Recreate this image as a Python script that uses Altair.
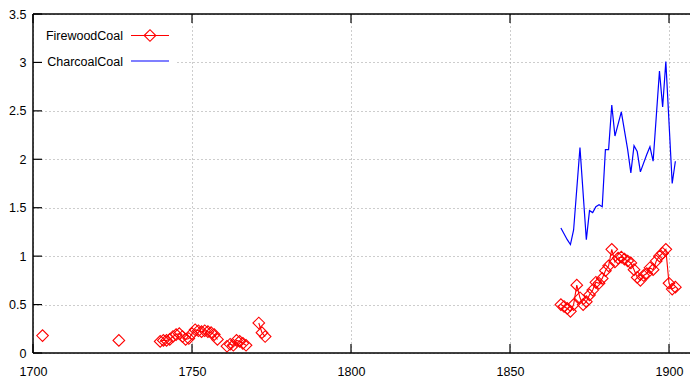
import altair as alt
import pandas as pd

# ---- data ----
red_years = [1703, 1727,
             1740, 1741, 1742, 1743, 1744, 1745, 1746, 1747, 1748, 1749,
             1750, 1751, 1752, 1753, 1754, 1755, 1756, 1757, 1758,
             1761, 1762, 1763, 1764, 1765, 1766, 1767,
             1771, 1772, 1773,
             1866, 1867, 1868, 1869, 1870, 1871, 1872, 1873, 1874, 1875,
             1876, 1877, 1878, 1879, 1880, 1881, 1882, 1883, 1884, 1885,
             1886, 1887, 1888, 1889, 1890, 1891, 1892, 1893, 1894, 1895,
             1896, 1897, 1898, 1899, 1900, 1901, 1902]
red_values = [0.18, 0.13,
              0.12, 0.13, 0.13, 0.14, 0.17, 0.19, 0.20, 0.17, 0.14, 0.15,
              0.20, 0.24, 0.23, 0.22, 0.23, 0.22, 0.21, 0.19, 0.14,
              0.07, 0.09, 0.08, 0.13, 0.12, 0.10, 0.08,
              0.31, 0.21, 0.17,
              0.50, 0.48, 0.46, 0.43, 0.50, 0.70, 0.57, 0.50, 0.53, 0.60,
              0.65, 0.73, 0.72, 0.77, 0.85, 0.90, 1.07, 0.94, 0.98, 0.99,
              0.97, 0.95, 0.93, 0.86, 0.78, 0.75, 0.80, 0.82, 0.88, 0.86,
              0.95, 1.00, 1.03, 1.07, 0.72, 0.66, 0.68]

blue_years = [1866, 1868, 1869, 1870, 1872, 1874, 1875, 1876, 1877, 1878,
              1879, 1880, 1881, 1882, 1883, 1885, 1887, 1888, 1889, 1890,
              1891, 1893, 1894, 1895, 1897, 1898, 1899, 1901, 1902]
blue_values = [1.29, 1.17, 1.12, 1.27, 2.12, 1.17, 1.47, 1.45, 1.51, 1.53,
               1.51, 2.10, 2.10, 2.56, 2.24, 2.49, 2.10, 1.86, 2.14, 2.08,
               1.87, 2.05, 2.13, 1.98, 2.91, 2.54, 3.01, 1.75, 1.98]

x_ticks = [1700, 1750, 1800, 1850, 1900]
y_ticks = [0, 0.5, 1, 1.5, 2, 2.5, 3, 3.5]

series_names = ["FirewoodCoal", "CharcoalCoal"]

# segments: consecutive years are joined, gaps break the line
seg = []
s = 0
for i, yr in enumerate(red_years):
    if i > 0 and yr - red_years[i - 1] > 1:
        s += 1
    seg.append(s)

red_df = pd.DataFrame({"year": red_years, "value": red_values, "seg": seg})
blue_df = pd.DataFrame({"year": blue_years, "value": blue_values})
xt_df = pd.DataFrame({"year": x_ticks})
yt_df = pd.DataFrame({"value": y_ticks})
one = pd.DataFrame({"k": [0]})

W, H = 657, 339
RED = "#ff0000"
BLUE = "#0000ff"
FONT = "Liberation Sans"

xscale = alt.Scale(domain=[1700, 1906.6], nice=False, zero=False)
yscale = alt.Scale(domain=[0, 3.5], nice=False, zero=True)

xaxis = alt.Axis(values=x_ticks, format="d", title=None, ticks=False, tickSize=0,
                 domain=False, labelPadding=12, labelFontSize=12.5, labelFont=FONT,
                 labelColor="black", grid=True, gridColor="#9a9a9a",
                 gridDash=[1, 3], gridWidth=1, labelFlush=False)
yaxis = alt.Axis(values=y_ticks, format="~g", title=None, ticks=False, tickSize=0,
                 domain=False, labelPadding=7, labelFontSize=12.5, labelFont=FONT,
                 labelColor="black", grid=True, gridColor="#9a9a9a",
                 gridDash=[1, 3], gridWidth=1, labelFlush=False)

X = alt.X("year:Q", scale=xscale, axis=xaxis)
Y = alt.Y("value:Q", scale=yscale, axis=yaxis)

blue_line = alt.Chart(blue_df).mark_line(color=BLUE, strokeWidth=1.2).encode(x=X, y=Y)

legend_bg = alt.Chart(one).mark_rect(fill="white").encode(
    x=alt.value(3), x2=alt.value(143), y=alt.value(8), y2=alt.value(62))

red_line = alt.Chart(red_df).mark_line(color=RED, strokeWidth=1.1).encode(
    x=X, y=Y, detail="seg:N")
red_pts = alt.Chart(red_df).mark_point(shape="diamond", size=135, filled=False,
                                       color=RED, strokeWidth=1.1, opacity=1).encode(
    x=X, y=Y)

# legend (gnuplot style: label then sample)
leg_red_line = alt.Chart(one).mark_rule(color=RED, strokeWidth=1.1).encode(
    x=alt.value(98), x2=alt.value(136), y=alt.value(21.5))
leg_red_pt = alt.Chart(one).mark_point(shape="diamond", size=135, filled=False,
                                       color=RED, strokeWidth=1.1, opacity=1).encode(
    x=alt.value(117), y=alt.value(21.5))
leg_blue_line = alt.Chart(one).mark_rule(color=BLUE, strokeWidth=1.2).encode(
    x=alt.value(98), x2=alt.value(136), y=alt.value(47))
leg_txt1 = alt.Chart(one).mark_text(align="right", baseline="middle", fontSize=12.5,
                                    font=FONT, color="black").encode(
    x=alt.value(90), y=alt.value(22), text=alt.value(series_names[0]))
leg_txt2 = alt.Chart(one).mark_text(align="right", baseline="middle", fontSize=12.5,
                                    font=FONT, color="black").encode(
    x=alt.value(90), y=alt.value(47.5), text=alt.value(series_names[1]))

# inward ticks (bottom, top, left) and frame (left, top, bottom)
TK = 9
tick_b = alt.Chart(xt_df).mark_rule(color="black", strokeWidth=1.2).encode(
    x=X, y=alt.value(H - TK), y2=alt.value(H))
tick_t = alt.Chart(xt_df).mark_rule(color="black", strokeWidth=1.2).encode(
    x=X, y=alt.value(0), y2=alt.value(TK))
tick_l = alt.Chart(yt_df).mark_rule(color="black", strokeWidth=1.2).encode(
    y=Y, x=alt.value(0), x2=alt.value(TK))
frame_l = alt.Chart(one).mark_rule(color="black", strokeWidth=1.5).encode(
    x=alt.value(0), y=alt.value(0), y2=alt.value(H))
frame_t = alt.Chart(one).mark_rule(color="black", strokeWidth=1.5).encode(
    x=alt.value(0), x2=alt.value(W), y=alt.value(0))
frame_b = alt.Chart(one).mark_rule(color="black", strokeWidth=1.5).encode(
    x=alt.value(0), x2=alt.value(W), y=alt.value(H))

chart = alt.layer(
    blue_line, legend_bg, red_line, red_pts,
    leg_red_line, leg_red_pt, leg_blue_line, leg_txt1, leg_txt2,
    tick_b, tick_t, tick_l, frame_l, frame_t, frame_b
).properties(
    width=W, height=H,
    autosize=alt.AutoSizeParams(type="none"),
    padding={"left": 25, "top": 6, "right": 0, "bottom": 24},
    background="white",
).configure_view(
    strokeWidth=0
)

chart.save("out.html", embed_options={"renderer": "svg", "actions": False})
